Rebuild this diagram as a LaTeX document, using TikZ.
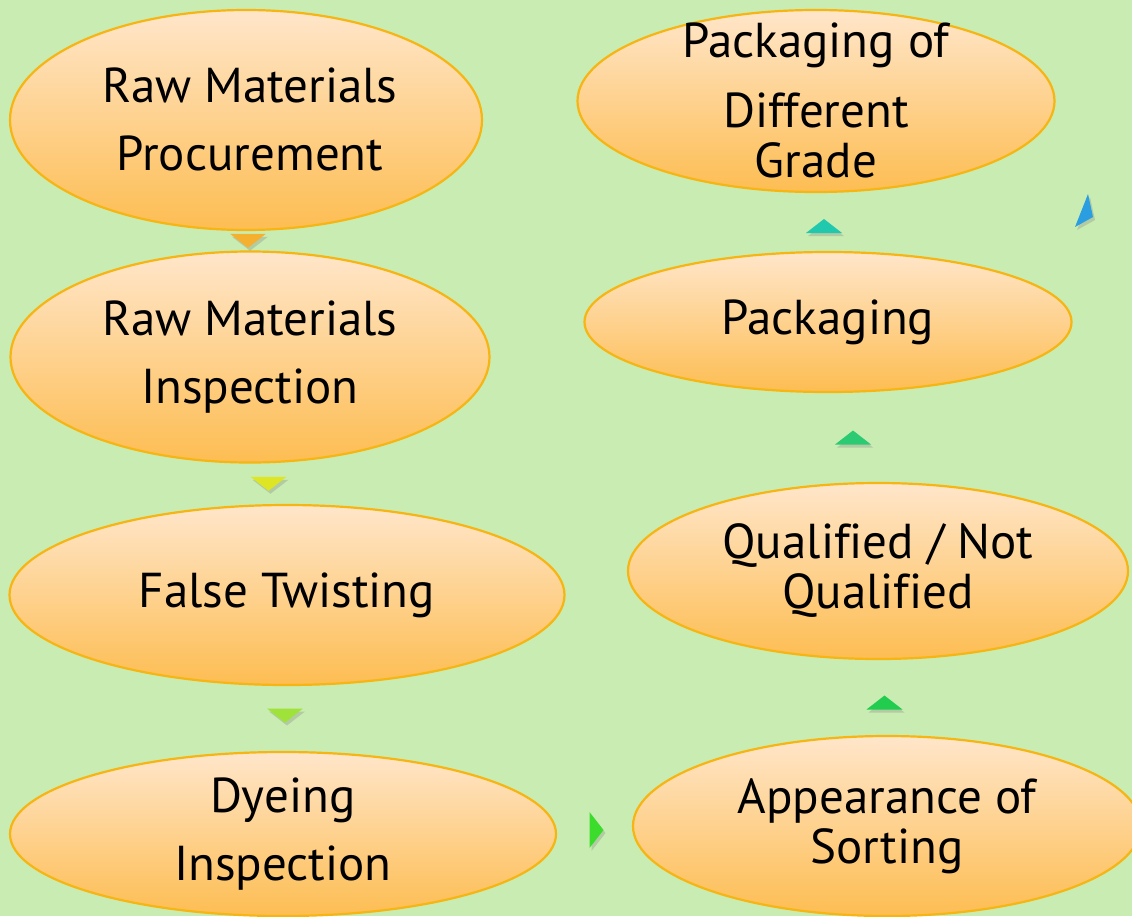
\documentclass[tikz,border=0pt]{standalone}
\usepackage{fontspec}
\setmainfont[Ligatures=NoCommon]{PT Sans}
\usetikzlibrary{shapes.geometric,shadows,calc}
\definecolor{bg}{HTML}{C9ECB2}
\definecolor{blobtop}{HTML}{FFE6CA}
\definecolor{blobbot}{HTML}{FDBD52}
\definecolor{blobline}{HTML}{F6B512}
\definecolor{aOne}{HTML}{F5B030}
\definecolor{aTwo}{HTML}{DDE525}
\definecolor{aThree}{HTML}{9FE33A}
\definecolor{aFour}{HTML}{3CDC2C}
\definecolor{aFive}{HTML}{22CC4E}
\definecolor{aSix}{HTML}{2CCB73}
\definecolor{aSeven}{HTML}{20C8AE}
\definecolor{aEight}{HTML}{2A9EE0}
\tikzset{
  blob/.style={ellipse, draw=blobline, line width=2.2pt, top color=blobtop, bottom color=blobbot, inner sep=0pt},
  lbl/.style={align=center, inner sep=0pt, text=black},
  big/.style={font=\fontsize{49}{68}\selectfont},
  tight/.style={font=\fontsize{49}{50}\selectfont},
  tri/.pic={\fill[pic actions, drop shadow={opacity=0.3, shadow xshift=2pt, shadow yshift=-3pt}] (-18,-7) -- (18,-7) -- (0,7) -- cycle;}
}
\begin{document}
\begin{tikzpicture}[x=1pt,y=-1pt]
\fill[bg] (0,0) rectangle (1132,916);
\useasboundingbox (0,0) rectangle (1132,916);
\begin{scope}
\clip (0,0) rectangle (1132,916);
% left column
\node[blob, minimum width=472, minimum height=220] (e1) at (246,120) {};
\node[lbl, big] (t1) at ($(e1.center)+(4,-1)$) {Raw Materials\\Procurement};
\node[blob, minimum width=479, minimum height=211] (e2) at (250,357) {};
\node[lbl, big] (t2) at (e2.center) {Raw Materials\\Inspection};
\node[blob, minimum width=555, minimum height=180] (e3) at (287,595) {};
\node[lbl, big] (t3) at (e3.center) {False Twisting};
\node[blob, minimum width=546, minimum height=164] (e4) at (283,834) {};
\node[lbl, big] (t4) at (e4.center) {Dyeing\\Inspection};
% right column
\node[blob, minimum width=508, minimum height=180] (e5) at (887,826) {};
\node[lbl, tight] (t5) at (e5.center) {Appearance of\\Sorting};
\node[blob, minimum width=500, minimum height=176] (e6) at (878,571) {};
\node[lbl, tight] (t6) at (e6.center) {Qualified / Not\\Qualified};
\node[blob, minimum width=487, minimum height=140] (e7) at (828,322) {};
\node[lbl, tight] (t7) at (e7.center) {Packaging};
\node[blob, minimum width=477, minimum height=182] (e8) at (816,101) {};
\node[lbl, tight] (t8) at ($(e8.center)+(0,-1)$) {Packaging of\\[20pt]Different\\Grade};
\end{scope}
% arrowheads
\pic[aOne] at ($(e1.south)!0.5!(e2.north)$) {tri};
\pic[aTwo] at ($(e2.south)!0.5!(e3.north)$) {tri};
\pic[aThree] at ($(e3.south)!0.5!(e4.north)+(0,-3)$) {tri};
\pic[aFour, rotate=90] at ($(e4.east)!0.5!(e5.west)+(2,0)$) {tri};
\pic[aFive, rotate=180] at ($(e5.north)!0.5!(e6.south)+(2,5)$) {tri};
\pic[aSix, rotate=180] at ($(e6.north)!0.5!(e7.south)$) {tri};
\pic[aSeven, rotate=180] at ($(e7.north)!0.5!(e8.south)+(2,4)$) {tri};
\coordinate (b1) at (1075,227);
\coordinate (b2) at (1093,217);
\coordinate (b3) at (1088,194);
\fill[aEight, drop shadow={opacity=0.3, shadow xshift=2pt, shadow yshift=-3pt}] (b1) -- (b2) -- (b3) -- cycle;
\end{tikzpicture}
\end{document}
